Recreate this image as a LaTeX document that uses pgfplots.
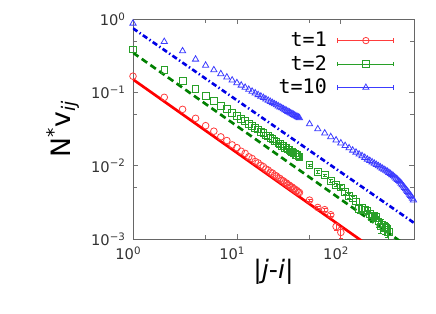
\documentclass[border=0pt]{standalone}
\usepackage{pgfplots}
\pgfplotsset{compat=1.18}
\usepackage{fontspec}
\setmainfont{DejaVu Sans}
\newfontfamily\monofont{DejaVu Sans Mono}
\definecolor{rM}{RGB}{255,60,60}
\definecolor{gM}{RGB}{40,160,40}
\definecolor{bM}{RGB}{60,60,255}
\definecolor{rL}{RGB}{255,0,0}
\definecolor{gL}{RGB}{0,128,0}
\definecolor{bL}{RGB}{0,0,230}
\pgfplotsset{errleg/.style={legend image code/.code={
  \draw[##1] (0pt,0pt) -- (42pt,0pt);
  \draw[##1] (0pt,-1.6pt) -- (0pt,1.6pt);
  \draw[##1] (42pt,-1.6pt) -- (42pt,1.6pt);
  \draw[##1] plot coordinates {(21pt,0pt)};
}}}
\begin{document}
\begin{tikzpicture}
\path[use as bounding box] (-99.75pt,-56.25pt) rectangle (227.25pt,179.25pt);
\begin{axis}[
  at={(0,0)}, anchor=south west,
  scale only axis, width=210.75pt, height=165pt,
  xmode=log, ymode=log,
  xmin=1, xmax=506, ymin=1e-3, ymax=1,
  xtick={1,10,100},
  xticklabels={10\textsuperscript{0},10\textsuperscript{1},10\textsuperscript{2}},
  ytick={0.001,0.01,0.1,1},
  yticklabels={10\textsuperscript{−3},10\textsuperscript{−2},10\textsuperscript{−1},10\textsuperscript{0}},
  minor xtick={5,50}, minor ytick={0.5,0.05,0.005},
  tick align=inside, major tick length=4pt, minor tick length=3pt,
  tick style={black!55, line width=0.5pt},
  axis line style={black!60, line width=0.6pt},
  ticklabel style={font=\fontsize{11}{13}\selectfont, text=black!80},
  xticklabel style={xshift=-3.5pt, yshift=-2.5pt},
  yticklabel style={xshift=-2pt},
  xlabel={\fontsize{19}{22}\selectfont|\textit{j}-\textit{i}|},
  xlabel style={at={(axis description cs:0.5,-0.15)}, anchor=center},
  ylabel={\fontsize{20}{24}\selectfont N\textsuperscript{*}v\textsubscript{\textit{ij}}},
  ylabel style={at={(axis description cs:-0.249,0.5)}, anchor=center},
  legend style={draw=none, fill=none, at={(0.945,0.965)}, anchor=north east,
    font=\monofont\fontsize{15}{17}\selectfont, column sep=6pt, row sep=1pt},
  legend cell align=right,
  legend plot pos=right,
]
\addlegendimage{errleg, rM, mark=o, mark size=2.4pt, line width=0.6pt}
\addlegendentry{t=1}
\addlegendimage{errleg, gM, mark=square, mark size=2.4pt, line width=0.6pt}
\addlegendentry{t=2}
\addlegendimage{errleg, bM, mark=triangle, mark size=2.6pt, line width=0.6pt}
\addlegendentry{t=10}

% fit lines
\addplot[forget plot, rL, line width=2pt] coordinates {(1,0.15) (200,0.00075)};
\addplot[forget plot, gL, line width=2pt, dash pattern=on 5pt off 3pt] coordinates {(1,0.347) (400,0.000868)};
\addplot[forget plot, bL, line width=2pt, dash pattern=on 4pt off 2pt on 1pt off 2pt] coordinates {(1,0.746) (506,0.00166)};

% t=1
\addplot[forget plot, only marks, mark=o, mark size=2.5pt, rM, mark options={line width=0.6pt}] coordinates {
(1,0.166) (2,0.0855) (3,0.0586) (4,0.0442) (5,0.0351) (6,0.0295) (7,0.0247) (8,0.0220) (9,0.0192) (10,0.0176)
(11,0.0157) (12,0.0147) (13,0.0132) (14,0.0125) (15,0.0114) (16,0.0109) (17,0.0101) (18,0.00968) (19,0.00900) (20,0.00870)
(21,0.00815) (22,0.00790) (23,0.00742) (24,0.00724) (25,0.00683) (26,0.00668) (27,0.00630) (28,0.00620) (29,0.00586) (30,0.00579)
(31,0.00548) (32,0.00541) (33,0.00515) (34,0.00510) (35,0.00485) (36,0.00481) (37,0.00458) (38,0.00456) (39,0.00435) (40,0.00430)
};
\addplot[forget plot, only marks, mark=o, mark size=2.5pt, rM, mark options={line width=0.6pt},
  error bars/.cd, y dir=both, y explicit, error bar style={line width=0.6pt}, error mark options={rotate=90, mark size=1.5pt}] coordinates {
(50,0.00339) +- (0,0.00008) (60,0.00269) +- (0,0.00008) (70,0.00251) +- (0,0.0001)
(80,0.00214) +- (0,0.0001) (90,0.00148) +- (0,0.00018) (100,0.00123) +- (0,0.0002)
};

% t=2
\addplot[forget plot, only marks, mark=square, mark size=2.5pt, gM, mark options={line width=0.6pt}] coordinates {
(1,0.385) (2,0.204) (3,0.1436) (4,0.1104) (5,0.0902) (6,0.0770) (7,0.0655) (8,0.0590) (9,0.0520) (10,0.0480)
(11,0.0432) (12,0.0405) (13,0.0370) (14,0.0352) (15,0.0324) (16,0.0311) (17,0.0289) (18,0.0280) (19,0.0260) (20,0.0254)
(21,0.0237) (22,0.0232) (23,0.0218) (24,0.0214) (25,0.0202) (26,0.0199) (27,0.0188) (28,0.0186) (29,0.0176) (30,0.0175)
(31,0.0166) (32,0.0165) (33,0.0156) (34,0.0155) (35,0.0148) (36,0.0147) (37,0.0141) (38,0.0140) (39,0.0134) (40,0.0133)
};
\addplot[forget plot, only marks, mark=square, mark size=2.5pt, gM, mark options={line width=0.6pt},
  error bars/.cd, y dir=both, y explicit, error bar style={line width=0.6pt}, error mark options={rotate=90, mark size=1.5pt}] coordinates {
(50,0.0102) +- (0,0.0004) (60,0.00826) +- (0,0.0003) (70,0.00745) +- (0,0.0003) (80,0.00617) +- (0,0.0003)
(90,0.00550) +- (0,0.0003) (100,0.00505) +- (0,0.0003) (110,0.00437) +- (0,0.0003) (120,0.00385) +- (0,0.0003)
(130,0.00358) +- (0,0.0003) (140,0.00324) +- (0,0.0003) (150,0.00257) +- (0,0.0003) (160,0.00263) +- (0,0.0003)
(170,0.00251) +- (0,0.0003) (180,0.00245) +- (0,0.0003) (190,0.00219) +- (0,0.0003) (200,0.00200) +- (0,0.0003)
(210,0.00204) +- (0,0.0003) (220,0.00204) +- (0,0.0003) (230,0.00174) +- (0,0.0003) (240,0.00148) +- (0,0.0003)
(250,0.00158) +- (0,0.0003) (260,0.00145) +- (0,0.0003) (270,0.00141) +- (0,0.0003) (280,0.00135) +- (0,0.0003)
(290,0.00126) +- (0,0.0003)
};

% t=10
\addplot[forget plot, only marks, mark=triangle, mark size=2.7pt, bM, mark options={line width=0.6pt}] coordinates {
(1,0.873) (2,0.491) (3,0.366) (4,0.282) (5,0.233) (6,0.2018) (7,0.1786) (8,0.1607) (9,0.1462) (10,0.1345)
(11,0.1247) (12,0.1164) (13,0.1092) (14,0.1030) (15,0.0975) (16,0.0925) (17,0.0883) (18,0.0843) (19,0.0807) (20,0.0775)
(21,0.0746) (22,0.0719) (23,0.0694) (24,0.0671) (25,0.0649) (26,0.0630) (27,0.0611) (28,0.0593) (29,0.0577) (30,0.0562)
(31,0.0547) (32,0.0533) (33,0.0521) (34,0.0508) (35,0.0497) (36,0.0486) (37,0.0475) (38,0.0466) (39,0.0456) (40,0.0447)
(50,0.0370) (60,0.0316) (70,0.0277) (80,0.0247) (90,0.0223) (100,0.0203) (110,0.0187) (120,0.0174) (130,0.0162) (140,0.0152)
(150,0.0143) (160,0.0136) (170,0.0129) (180,0.0122) (190,0.0117) (200,0.0112) (210,0.0107) (220,0.0103) (230,0.00991) (240,0.00955)
(250,0.00920) (260,0.00889) (270,0.00859) (280,0.00832) (290,0.00805) (300,0.00776) (310,0.00750) (320,0.00723) (330,0.00697) (340,0.00671)
(350,0.00646) (360,0.00622) (370,0.00600) (380,0.00573) (390,0.00547) (400,0.00524) (410,0.00501) (420,0.00481) (430,0.00461) (440,0.00442)
(450,0.00424) (460,0.00406) (470,0.00390) (480,0.00374) (490,0.00357) (500,0.00339)
};
\end{axis}
\end{tikzpicture}
\end{document}
